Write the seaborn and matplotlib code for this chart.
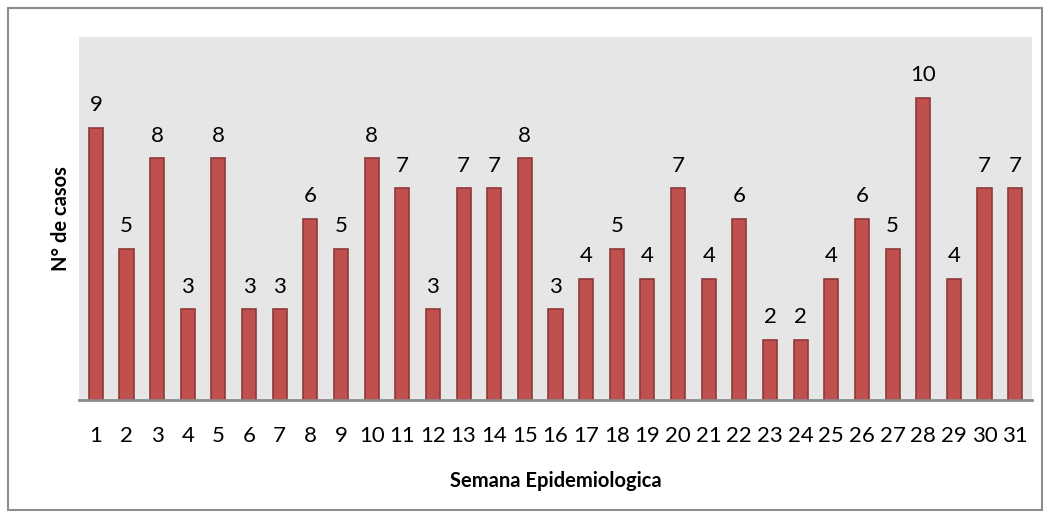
import pandas as pd
import seaborn as sns
import matplotlib.pyplot as plt
from matplotlib.patches import Rectangle

# Data
semanas = [str(i) for i in range(1, 32)]
casos = [9, 5, 8, 3, 8, 3, 3, 6, 5, 8, 7, 3, 7, 7, 8, 3, 4, 5, 4, 7,
         4, 6, 2, 2, 4, 6, 5, 10, 4, 7, 7]

df = pd.DataFrame({'semana': semanas, 'casos': casos})

sns.set_theme(style='white')
plt.rcParams['font.family'] = ['Lato', 'DejaVu Sans']
plt.rcParams['text.color'] = 'black'
plt.rcParams['axes.labelcolor'] = 'black'
plt.rcParams['xtick.color'] = 'black'

fig = plt.figure(figsize=(10.5, 5.18), dpi=100)
ax = fig.add_axes([79 / 1050, 1 - 400 / 518, (1032 - 79) / 1050, (400 - 37) / 518])
ax.set_facecolor('#e6e6e6')

sns.barplot(data=df, x='semana', y='casos', ax=ax, color='#c0504d',
            width=0.46, edgecolor='#8e3a38', linewidth=1.2, saturation=1)

# value labels
for cont in ax.containers:
    ax.bar_label(cont, labels=[str(v) for v in casos], padding=9,
                 fontsize=16, color='black')

ax.set_ylim(0, 12)
ax.set_xlim(-0.55, 30.55)
ax.set_yticks([])
ax.tick_params(axis='x', length=0, pad=19, labelsize=16, labelcolor='black')
for s in ['top', 'right', 'left']:
    ax.spines[s].set_visible(False)
ax.spines['bottom'].set_color('#8c8c8c')
ax.spines['bottom'].set_linewidth(2)

ax.set_xlabel('Semana Epidemiologica', fontsize=14.5, fontweight='bold',
              labelpad=18, color='black')
ax.set_ylabel('N° de casos', fontsize=14.5, fontweight='bold', labelpad=6,
              color='black')

# outer border
fig.patches.append(Rectangle((8 / 1050, 8 / 518), 1034 / 1050, 502 / 518,
                             transform=fig.transFigure, fill=False,
                             edgecolor='#8c8c8c', linewidth=1.5))

fig.savefig('out.png', dpi=100)
